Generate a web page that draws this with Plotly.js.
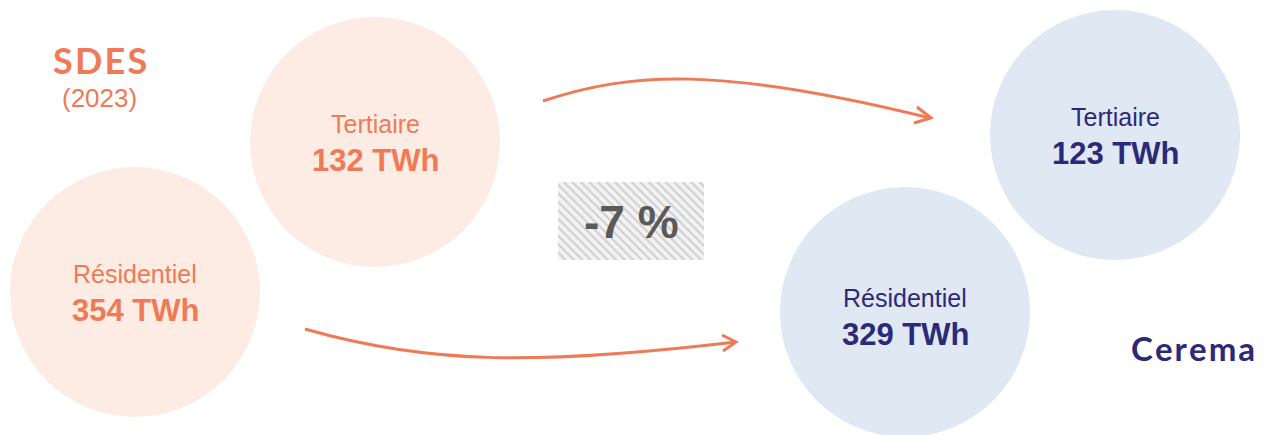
<!DOCTYPE html>
<html>
<head>
<meta charset="utf-8">
<script src="https://cdn.plot.ly/plotly-3.0.1.min.js"></script>
<style>html,body{margin:0;padding:0;background:#fff;}#chart{width:1266px;height:435px;}</style>
</head>
<body>
<div id="chart"></div>
<script>
// ---- data ----
const categories = ["Tertiaire", "Résidentiel"];
const sdesValues = [132, 354];     // TWh, SDES (2023)
const ceremaValues = [123, 329];   // TWh, Cerema
const unit = "TWh";
const sourceLeft = "SDES";
const sourceLeftYear = "(2023)";
const sourceRight = "Cerema";

// ---- computed ----
const totalLeft = sdesValues.reduce((a, b) => a + b, 0);
const totalRight = ceremaValues.reduce((a, b) => a + b, 0);
const change = Math.round((totalRight / totalLeft - 1) * 100);
const changeLabel = (change > 0 ? "+" : "") + change + " %";

// ---- style ----
const orange = "#f07a56";
const orangeLight = "#fdece4";
const navy = "#2c2a78";
const blueLight = "#dfe8f3";
const R = 125;

// layout positions (pixels): circle centre and text centre for each category
const leftPos = { "Tertiaire": { c: [375, 142], t: [375, 142] }, "Résidentiel": { c: [135, 292], t: [135, 292] } };
const rightPos = { "Tertiaire": { c: [1115, 135], t: [1115, 135] }, "Résidentiel": { c: [905, 312], t: [905, 316] } };

const shapes = [];
const annotations = [];

function addCircle(pos, fill, name, value, color) {
  shapes.push({ type: "circle", xref: "x", yref: "y", layer: "below",
    x0: pos.c[0] - R, x1: pos.c[0] + R, y0: pos.c[1] - R, y1: pos.c[1] + R,
    fillcolor: fill, line: { width: 0 } });
  annotations.push({ x: pos.t[0], y: pos.t[1] - 18, xref: "x", yref: "y", showarrow: false,
    text: name, font: { family: "Liberation Sans, Arial", size: 25, color: color } });
  annotations.push({ x: pos.t[0], y: pos.t[1] + 18, xref: "x", yref: "y", showarrow: false,
    text: "<b>" + value + " " + unit + "</b>", font: { family: "Liberation Sans, Arial", size: 31, color: color } });
}
categories.forEach((c, i) => {
  addCircle(leftPos[c], orangeLight, c, sdesValues[i], orange);
  addCircle(rightPos[c], blueLight, c, ceremaValues[i], navy);
});

// arrows
const arrowLine = { color: orange, width: 3 };
shapes.push({ type: "path", xref: "x", yref: "y", path: "M 543 101 C 630 72, 720 66, 930 118", line: arrowLine });
shapes.push({ type: "path", xref: "x", yref: "y", path: "M 917 107 L 931 118 L 914 123", line: arrowLine });
shapes.push({ type: "path", xref: "x", yref: "y", path: "M 305 329 C 430 365, 540 365, 736 342", line: arrowLine });
shapes.push({ type: "path", xref: "x", yref: "y", path: "M 722 335 L 736 342 L 723 351", line: arrowLine });

// source labels
const hair = "&#8202;";
annotations.push({ x: 100, y: 60, xref: "x", yref: "y", showarrow: false,
  text: "<b>" + sourceLeft.split("").join(hair) + "</b>",
  font: { family: "Lato", size: 36, color: orange, weight: 900 } });
annotations.push({ x: 99, y: 98, xref: "x", yref: "y", showarrow: false,
  text: sourceLeftYear, font: { family: "Liberation Sans, Arial", size: 26, color: orange } });
annotations.push({ x: 1193, y: 348, xref: "x", yref: "y", showarrow: false,
  text: "<b>" + sourceRight.split("").join(hair) + "</b>", font: { family: "Lato", size: 33, color: navy, weight: 900 } });

// change label
annotations.push({ x: 631, y: 222, xref: "x", yref: "y", showarrow: false,
  text: "<b>" + changeLabel + "</b>", font: { family: "Liberation Sans, Arial", size: 46, color: "#5a5a5a" } });

// hatched box via bar with pattern
const box = {
  type: "bar", x: [631], y: [78], base: [182], width: [146],
  marker: { color: "#ececec", line: { width: 0 },
    pattern: { shape: "\\", fgcolor: "#cfcfcf", bgcolor: "#f3f3f3", size: 6, solidity: 0.35 } },
  hoverinfo: "skip", showlegend: false
};

const layout = {
  width: 1266, height: 435,
  margin: { l: 0, r: 0, t: 0, b: 0 },
  paper_bgcolor: "#ffffff", plot_bgcolor: "#ffffff",
  xaxis: { range: [0, 1266], visible: false, fixedrange: true },
  yaxis: { range: [435, 0], visible: false, fixedrange: true },
  shapes: shapes, annotations: annotations, showlegend: false
};
Plotly.newPlot("chart", [box], layout, { displayModeBar: false, staticPlot: true });
</script>
</body>
</html>
